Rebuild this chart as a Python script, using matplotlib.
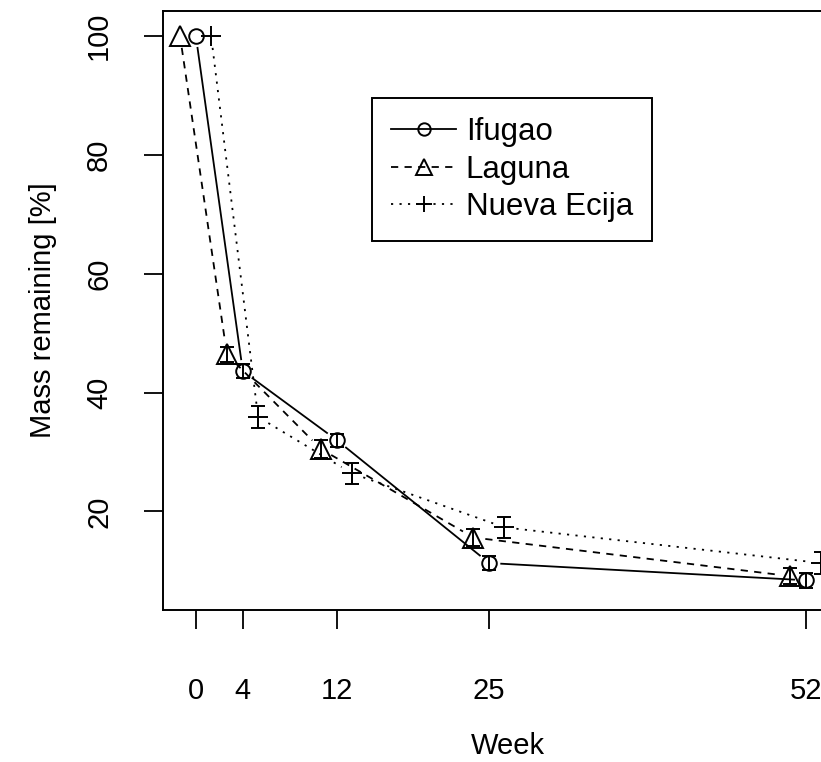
import matplotlib
matplotlib.use("Agg")
import numpy as np
import matplotlib.pyplot as plt
from matplotlib.lines import Line2D

plt.rcParams['font.family'] = ['Liberation Sans', 'DejaVu Sans']

# data
weeks = [0, 4, 12, 25, 52]
week_labels = ['0', '4', '12', '25', '52']
ifugao = [100, 43.6, 32.0, 11.3, 8.4]
ifugao_err = [0, 1.2, 1.1, 1.25, 1.3]
laguna = [100, 46.4, 30.5, 15.6, 9.1]
laguna_err = [0, 1.3, 1.5, 1.5, 1.3]
nueva = [100, 35.9, 26.4, 17.3, 11.3]
nueva_err = [0, 1.8, 1.8, 1.7, 1.8]

sites = ['Ifugao', 'Laguna', 'Nueva Ecija']
offsets = [0.0, -1.35, 1.3]
markers = ['o', '^', '+']
msizes = [10.5, 14, 14]
styles = ['-', (0, (4, 3.5)), (0, (1.2, 3.5))]
values = [ifugao, laguna, nueva]
errors = [ifugao_err, laguna_err, nueva_err]

fig = plt.figure(figsize=(8.21, 7.62), dpi=100)
ax = fig.add_axes([163 / 821, 152 / 762, 690 / 821, 599 / 762])
ax.set_xlim(-2.8, 56)
ax.set_ylim(3.4, 104.2)

# R style type="b": lines with gaps around the points
gap = 12  # pixels
fig.canvas.draw()
for vals, err, off, mk, ms, ls in zip(values, errors, offsets, markers, msizes, styles):
    x = np.array(weeks, dtype=float) + off
    y = np.array(vals, dtype=float)
    pts = ax.transData.transform(np.column_stack([x, y]))
    for p0, p1 in zip(pts[:-1], pts[1:]):
        d = p1 - p0
        L = np.hypot(*d)
        u = d / L
        a = ax.transData.inverted().transform(p0 + u * gap)
        b = ax.transData.inverted().transform(p1 - u * gap)
        ax.plot([a[0], b[0]], [a[1], b[1]], color='black', lw=1.3,
                linestyle=ls, clip_on=False)
    ax.plot(x, y, linestyle='none', marker=mk, markersize=ms,
            markerfacecolor='none', markeredgecolor='black', markeredgewidth=1.4,
            clip_on=False)
    ax.errorbar(x[1:], y[1:], yerr=err[1:], fmt='none', ecolor='black',
                elinewidth=1.4, capsize=5, capthick=1.4, clip_on=False)

ax.set_xticks(weeks)
ax.set_xticklabels(week_labels)
ax.set_yticks([20, 40, 60, 80, 100])
ax.set_yticklabels(['20', '40', '60', '80', '100'], rotation=90, va='center')
ax.tick_params(axis='both', direction='out', length=14, width=1.3,
               labelsize=21, colors='black')
ax.tick_params(axis='x', pad=34)
ax.tick_params(axis='y', pad=22)
for s in ax.spines.values():
    s.set_linewidth(1.4)
ax.set_xlabel('Week', fontsize=21, labelpad=20)
ax.set_ylabel('Mass remaining [%]', fontsize=21, labelpad=20)

handles = [Line2D([0], [0], color='black', lw=1.3, linestyle=ls, marker=mk,
                  markersize=ms * 0.85, markerfacecolor='none', markeredgewidth=1.4)
           for mk, ms, ls in zip(markers, msizes, styles)]
leg = ax.legend(handles, sites, loc='upper left',
                bbox_to_anchor=(372 / 821, 1 - 98 / 762),
                bbox_transform=fig.transFigure, fontsize=22.5, frameon=True,
                fancybox=False, edgecolor='black', framealpha=1,
                handlelength=2.1, handletextpad=0.3, labelspacing=0.25,
                borderpad=0.6, borderaxespad=0)
leg.get_frame().set_linewidth(1.4)

fig.savefig('out.png', dpi=100)
